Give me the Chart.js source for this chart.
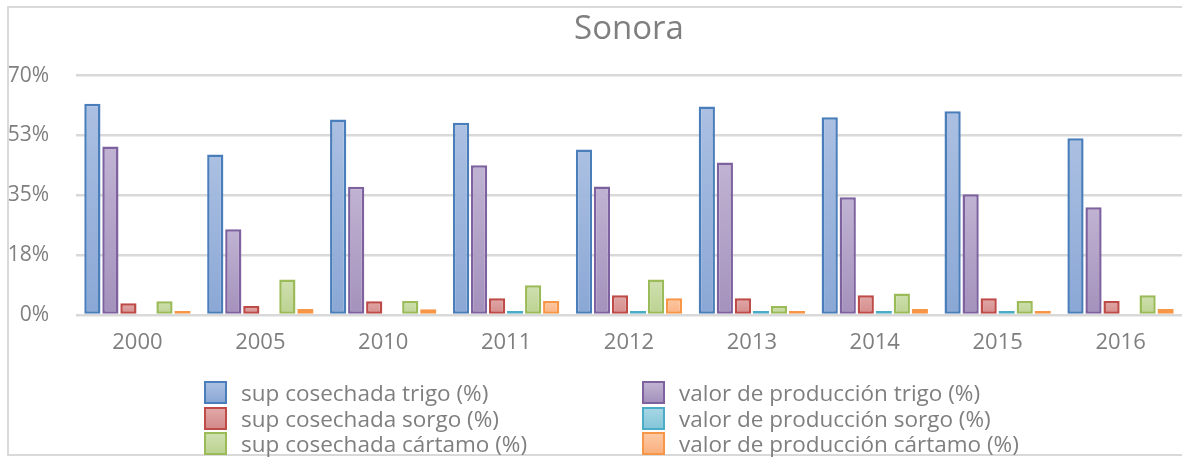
<!DOCTYPE html>
<html>
<head>
<meta charset="utf-8">
<script src="https://cdn.jsdelivr.net/npm/chart.js@4.4.1/dist/chart.umd.min.js"></script>
<style>
  html, body { margin: 0; padding: 0; background: #fff; }
  .wrap { position: relative; width: 1182px; height: 459px; overflow: hidden; }
  #chart { position: absolute; left: 0; top: 0; }
  .frame {
    position: absolute; left: 7px; top: 6px; width: 1200px; height: 450px;
    border: 2px solid #d9d9d9; box-sizing: border-box; overflow: hidden;
  }
  .legend { position: absolute; left: 0; top: 0; width: 1182px; height: 457px; overflow: hidden; }
  .item {
    position: absolute; height: 25px; display: flex; align-items: center;
    font-family: "Open Sans", sans-serif; font-size: 22.5px; color: #7f7f7f; white-space: nowrap;
  }
  .box { width: 23px; height: 23px; box-sizing: border-box; border: 2px solid; margin-right: 14px; flex: none; }
</style>
</head>
<body>
<div class="wrap">
  <canvas id="chart" width="1182" height="459"></canvas>
  <div class="frame"></div>
  <div class="legend" id="legend"></div>
</div>
<script>
const years = ["2000", "2005", "2010", "2011", "2012", "2013", "2014", "2015", "2016"];
const supTrigo = [61.8, 46.9, 57.2, 56.2, 48.4, 61.0, 57.8, 59.6, 51.7];
const valorTrigo = [49.3, 25.1, 37.5, 43.8, 37.6, 44.6, 34.4, 35.3, 31.5];
const supSorgo = [3.4, 2.6, 4.0, 4.9, 5.8, 4.9, 5.8, 4.9, 4.1];
const valorSorgo = [0, 0, 0, 1.2, 1.2, 1.2, 1.2, 1.2, 0];
const supCartamo = [4.0, 10.4, 4.1, 8.7, 10.4, 2.6, 6.3, 4.1, 5.8];
const valorCartamo = [1.2, 1.75, 1.7, 4.1, 4.9, 1.2, 1.75, 1.2, 1.75];
const yTicks = [0, 17.5, 35, 52.5, 70];

const labels = [
  "sup cosechada trigo (%)",
  "valor de producción trigo (%)",
  "sup cosechada sorgo (%)",
  "valor de producción sorgo (%)",
  "sup cosechada cártamo (%)",
  "valor de producción cártamo (%)",
];
// light top, dark bottom, border
const colors = [
  ["#abc0e2", "#8aa7d5", "#4a7ebb"],
  ["#c0b3d2", "#a491bc", "#7e62a0"],
  ["#e0a8a7", "#d38a89", "#be4b48"],
  ["#a6d6e4", "#84c6d9", "#4bacc6"],
  ["#cfe0b0", "#bbd290", "#9bbb59"],
  ["#fdc9a4", "#f9b07e", "#f79646"],
];
const series = [supTrigo, valorTrigo, supSorgo, valorSorgo, supCartamo, valorCartamo];

function barFill(c) {
  return (ctx) => {
    const chart = ctx.chart;
    const area = chart.chartArea;
    if (!area || ctx.parsed === undefined) return c[0];
    const top = chart.scales.y.getPixelForValue(ctx.parsed.y);
    if (!(area.bottom - top > 1)) return c[2];
    const g = chart.ctx.createLinearGradient(0, top, 0, area.bottom);
    g.addColorStop(0, c[0]);
    g.addColorStop(1, c[1]);
    return g;
  };
}

const datasets = series.map((data, i) => ({
  label: labels[i],
  data: data,
  backgroundColor: barFill(colors[i]),
  borderColor: colors[i][2],
  borderWidth: (ctx) => (ctx.raw === 0 ? 0 : 2.5),
  borderSkipped: false,
  barPercentage: 0.9,
  categoryPercentage: 0.88,
}));

new Chart(document.getElementById("chart"), {
  type: "bar",
  data: { labels: years, datasets: datasets },
  options: {
    responsive: false,
    animation: false,
    layout: { padding: { top: 0, right: 0, bottom: 104, left: 0 } },
    scales: {
      x: {
        grid: { display: false },
        border: { display: false },
        ticks: {
          color: "#7f7f7f",
          padding: 7,
          font: { family: "Open Sans", size: 22 },
        },
        afterFit: (scale) => { scale.height = 40; },
      },
      y: {
        min: 0,
        max: 70,
        afterBuildTicks: (scale) => { scale.ticks = yTicks.map((v) => ({ value: v })); },
        grid: { color: "#d9d9d9", lineWidth: 2.5, drawTicks: false },
        border: { display: false },
        ticks: {
          color: "#7f7f7f",
          padding: 27,
          font: { family: "Open Sans", size: 21 },
          callback: (v) => Math.round(v) + "%",
        },
        afterFit: (scale) => { scale.width = 76; },
      },
    },
    plugins: {
      legend: { display: false },
      tooltip: { enabled: false },
      title: {
        display: true,
        text: "Sonora",
        fullSize: false,
        color: "#7f7f7f",
        font: { family: "Open Sans", size: 33, weight: "normal" },
        padding: { top: 10, bottom: 26 },
      },
    },
  },
});

// legend, two columns
const legend = document.getElementById("legend");
const colX = [204, 642];
const rowY = [380, 405.5, 431];
labels.forEach((text, i) => {
  const item = document.createElement("div");
  item.className = "item";
  item.style.left = colX[i % 2] + "px";
  item.style.top = rowY[Math.floor(i / 2)] + "px";
  const box = document.createElement("span");
  box.className = "box";
  box.style.borderColor = colors[i][2];
  box.style.background = `linear-gradient(${colors[i][0]}, ${colors[i][1]})`;
  item.appendChild(box);
  item.appendChild(document.createTextNode(text));
  legend.appendChild(item);
});
</script>
</body>
</html>
